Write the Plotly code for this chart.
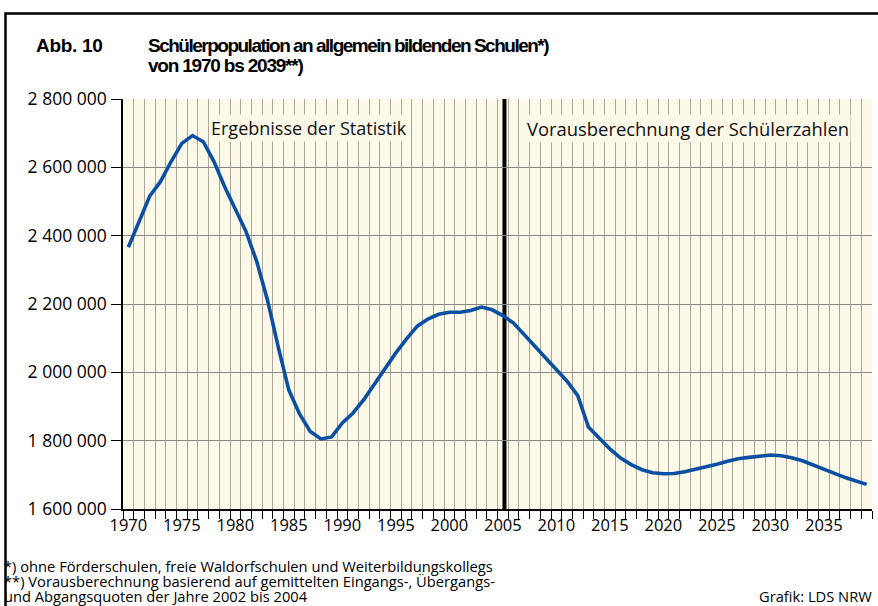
import plotly.graph_objects as go

# ---- data ----
years = list(range(1970, 2040))
pupils = [
    2366000, 2441000, 2516000, 2558000, 2617000, 2670000, 2693000, 2675000, 2617000, 2543000,
    2477000, 2412000, 2324000, 2212000, 2075000, 1948000, 1878000, 1827000, 1805000, 1811000,
    1852000, 1881000, 1920000, 1967000, 2013000, 2057000, 2098000, 2135000, 2156000, 2170000,
    2176000, 2176000, 2181000, 2191000, 2183000, 2166000, 2144000, 2110000, 2076000, 2042000,
    2008000, 1974000, 1932000, 1840000, 1808000, 1776000, 1749000, 1730000, 1715000, 1706000,
    1703000, 1704000, 1709000, 1716000, 1723000, 1731000, 1740000, 1747000, 1751000, 1755000,
    1758000, 1756000, 1750000, 1741000, 1729000, 1716000, 1703000, 1692000, 1682000, 1672000,
]
x_tick_years = [1970, 1975, 1980, 1985, 1990, 1995, 2000, 2005, 2010, 2015, 2020, 2025, 2030, 2035]
y_tick_vals = [1600000, 1800000, 2000000, 2200000, 2400000, 2600000, 2800000]
y_tick_text = ["1 600 000", "1 800 000", "2 000 000", "2 200 000", "2 400 000", "2 600 000", "2 800 000"]
split_year = 2005
period_labels = ["Ergebnisse der Statistik", "Vorausberechnung der Schülerzahlen"]
title_num = "Abb. 10"
title_lines = ["Schülerpopulation an allgemein bildenden Schulen*)", "von 1970 bs 2039**)"]
footnotes = [
    "*) ohne Förderschulen, freie Waldorfschulen und Weiterbildungskollegs",
    "**) Vorausberechnung basierend auf gemittelten Eingangs-, Übergangs-",
    "und Abgangsquoten der Jahre 2002 bis 2004",
]
source = "Grafik: LDS NRW"

# ---- layout geometry ----
W, H = 878, 606
L, R, T, B = 123, 6, 99, 97
PW, PH = W - L - R, H - T - B

def px(x):
    return (x - L) / PW

def py(y):
    return (H - B - y) / PH

BG = "#fdf9e8"
FONT = "Open Sans, DejaVu Sans, sans-serif"
TFONT = "Liberation Sans, Arial, sans-serif"

def cond(t, ls):
    return '<span style="letter-spacing:%spx">' % ls + t + '</span>'

fig = go.Figure()
fig.add_trace(go.Scatter(
    x=years, y=pupils, mode="lines",
    line=dict(color="#0b4fa2", width=3.6),
    hoverinfo="skip", showlegend=False,
))

fig.add_shape(type="line", xref="x", yref="paper",
              x0=split_year + 0.15, x1=split_year + 0.15, y0=0, y1=1,
              line=dict(color="black", width=4), layer="between")

# frame
fig.add_shape(type="rect", xref="paper", yref="paper",
              x0=px(5.5), x1=px(900), y0=py(13.5), y1=py(700),
              line=dict(color="black", width=2.5), fillcolor="rgba(0,0,0,0)", layer="above")

ann = []
ann.append(dict(x=1986.9, y=2715000, xref="x", yref="y", text=period_labels[0],
                showarrow=False, font=dict(family=FONT, size=18, color="#111"),
                bgcolor=BG, xanchor="center", yanchor="middle", borderpad=1))
ann.append(dict(x=2022.3, y=2715000, xref="x", yref="y", text=period_labels[1],
                showarrow=False, font=dict(family=FONT, size=18.4, color="#111"),
                bgcolor=BG, xanchor="center", yanchor="middle", borderpad=1))
ann.append(dict(x=px(34), y=py(45), xref="paper", yref="paper", text="<b>" + cond(title_num, -0.3) + "</b>",
                showarrow=False, font=dict(family=TFONT, size=19, color="black"),
                xanchor="left", yanchor="middle"))
ann.append(dict(x=px(146), y=py(45), xref="paper", yref="paper", text="<b>" + cond(title_lines[0], -1.5) + "</b>",
                showarrow=False, font=dict(family=TFONT, size=19, color="black"),
                xanchor="left", yanchor="middle"))
ann.append(dict(x=px(146), y=py(66), xref="paper", yref="paper", text="<b>" + cond(title_lines[1], -1.2) + "</b>",
                showarrow=False, font=dict(family=TFONT, size=19, color="black"),
                xanchor="left", yanchor="middle"))
for i, t in enumerate(footnotes):
    ann.append(dict(x=px(2), y=py(565.5 + 15 * i), xref="paper", yref="paper", text=t,
                    showarrow=False, font=dict(family=FONT, size=14.7, color="black"),
                    xanchor="left", yanchor="middle"))
ann.append(dict(x=px(874), y=py(595.5), xref="paper", yref="paper", text=source,
                showarrow=False, font=dict(family=FONT, size=14.7, color="black"),
                xanchor="right", yanchor="middle"))

fig.update_layout(
    width=W, height=H,
    margin=dict(l=L, r=R, t=T, b=B, pad=0),
    paper_bgcolor="white", plot_bgcolor=BG,
    showlegend=False,
    annotations=ann,
    xaxis=dict(
        range=[1969.5, 2039.5], tickmode="array", tickvals=x_tick_years,
        ticktext=[str(v) for v in x_tick_years],
        ticks="", showgrid=False, zeroline=False,
        showline=True, linecolor="black", linewidth=1.5,
        tickfont=dict(family=FONT, size=16.5, color="black"),
        ticklabelstandoff=0,
        minor=dict(tickmode="array", tickvals=[1969.5 + i for i in range(71)],
                   showgrid=True, gridcolor="#aba79b", gridwidth=1.4,
                   ticks="outside", ticklen=8, tickcolor="black", tickwidth=1.2),
        fixedrange=True,
    ),
    yaxis=dict(
        range=[1600000, 2800000], tickmode="array", tickvals=y_tick_vals, ticktext=y_tick_text,
        ticks="outside", ticklen=10, tickcolor="black", tickwidth=1.2,
        showgrid=True, gridcolor="#8a8884", gridwidth=1.4, zeroline=False,
        showline=True, linecolor="black", linewidth=1.5,
        tickfont=dict(family=FONT, size=17.5, color="black"),
        ticklabelstandoff=1,
        fixedrange=True,
    ),
)

fig.write_html("out.html", config={"displayModeBar": False},
               post_script="document.body.style.margin='0';document.body.style.overflow='hidden';")
